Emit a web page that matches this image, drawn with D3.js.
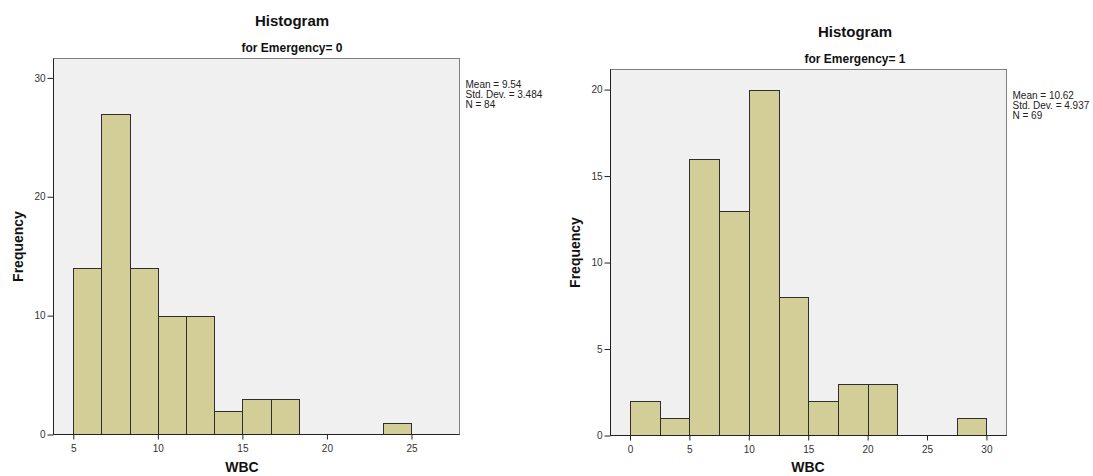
<!DOCTYPE html>
<html>
<head>
<meta charset="utf-8">
<script src="https://cdn.jsdelivr.net/npm/d3@7"></script>
<style>
  html, body { margin: 0; padding: 0; background: #fff; }
  svg { display: block; font-family: "Liberation Sans", Arial, sans-serif; }
</style>
</head>
<body>
<svg id="chart" width="1093" height="476"></svg>
<script>
// WBC histograms split by Emergency group
const groups = ["0", "1"];

// Emergency = 0
const binEdges0 = [5, 6.667, 8.333, 10, 11.667, 13.333, 15, 16.667, 18.333, 20, 21.667, 23.333, 25];
const counts0   = [14, 27, 14, 10, 10, 2, 3, 3, 0, 0, 0, 1];
const xTicks0   = [5, 10, 15, 20, 25];
const yTicks0   = [0, 10, 20, 30];
const stats0    = ["Mean = 9.54", "Std. Dev. = 3.484", "N = 84"];

// Emergency = 1
const binEdges1 = [0, 2.5, 5, 7.5, 10, 12.5, 15, 17.5, 20, 22.5, 25, 27.5, 30];
const counts1   = [2, 1, 16, 13, 20, 8, 2, 3, 3, 0, 0, 1];
const xTicks1   = [0, 5, 10, 15, 20, 25, 30];
const yTicks1   = [0, 5, 10, 15, 20];
const stats1    = ["Mean = 10.62", "Std. Dev. = 4.937", "N = 69"];

const svg = d3.select("#chart");

const panels = [
  { group: groups[0], edges: binEdges0, counts: counts0, xTicks: xTicks0, yTicks: yTicks0, stats: stats0,
    xDomain: [3.83, 27.84], yMax: 31.63,
    box: { x0: 53.5, x1: 459.5, y0: 58.5, y1: 434.5 }, titleX: 292, xTitleX: 242 },
  { group: groups[1], edges: binEdges1, counts: counts1, xTicks: xTicks1, yTicks: yTicks1, stats: stats1,
    xDomain: [-1.64, 31.69], yMax: 21.16,
    box: { x0: 610.5, x1: 1006.5, y0: 69.5, y1: 435.5 }, titleX: 855, xTitleX: 808 }
];

panels.forEach(p => {
  const b = p.box;
  const x = d3.scaleLinear().domain(p.xDomain).range([b.x0, b.x1]);
  const y = d3.scaleLinear().domain([0, p.yMax]).range([b.y1, b.y0]);
  const g = svg.append("g");

  // plot area
  g.append("rect")
    .attr("x", b.x0).attr("y", b.y0)
    .attr("width", b.x1 - b.x0).attr("height", b.y1 - b.y0)
    .attr("fill", "#f0f0f0")
    .attr("stroke", "#7f7f7f").attr("stroke-width", 1);

  // bars (empty bins are not drawn)
  const bins = p.counts.map((c, i) => ({ x0: p.edges[i], x1: p.edges[i + 1], n: c }))
    .filter(d => d.n > 0);
  g.selectAll("rect.bar").data(bins).join("rect")
    .attr("class", "bar")
    .attr("x", d => Math.round(x(d.x0)) + 0.5)
    .attr("width", d => Math.round(x(d.x1)) - Math.round(x(d.x0)))
    .attr("y", d => Math.round(y(d.n)) + 0.5)
    .attr("height", d => b.y1 - 0.5 - Math.round(y(d.n)))
    .attr("fill", "#d3ce97")
    .attr("stroke", "#2e2e2e").attr("stroke-width", 1);

  // axes
  const xAxis = d3.axisBottom(x).tickValues(p.xTicks).tickSize(5).tickPadding(5).tickFormat(d3.format("d"));
  const yAxis = d3.axisLeft(y).tickValues(p.yTicks).tickSize(6).tickPadding(2).tickFormat(d3.format("d"));

  const gx = g.append("g").attr("transform", `translate(0,${b.y1})`).call(xAxis);
  const gy = g.append("g").attr("transform", `translate(${b.x0},0)`).call(yAxis);
  [gx, gy].forEach(ax => {
    ax.select(".domain").remove();
    ax.selectAll(".tick line").attr("stroke", "#222");
    ax.selectAll(".tick text").attr("fill", "#333")
      .style("font-size", "10px").style("font-family", "'Liberation Sans', Arial, sans-serif");
  });

  // black axis lines on left and bottom
  g.append("line").attr("x1", b.x0).attr("x2", b.x1).attr("y1", b.y1).attr("y2", b.y1)
    .attr("stroke", "#222");
  g.append("line").attr("x1", b.x0).attr("x2", b.x0).attr("y1", b.y0).attr("y2", b.y1)
    .attr("stroke", "#222");

  // titles
  g.append("text").attr("x", p.titleX).attr("y", b.y0 - 33)
    .attr("text-anchor", "middle").style("font-size", "15px").style("font-weight", "bold")
    .attr("fill", "#111").text("Histogram");
  g.append("text").attr("x", p.titleX).attr("y", b.y0 - 7)
    .attr("text-anchor", "middle").style("font-size", "12px").style("font-weight", "bold")
    .attr("fill", "#111").text("for Emergency= " + p.group);

  // axis titles
  g.append("text").attr("x", p.xTitleX).attr("y", 472)
    .attr("text-anchor", "middle").style("font-size", "14px").style("font-weight", "bold")
    .attr("fill", "#111").text("WBC");
  g.append("text")
    .attr("transform", `translate(${b.x0 - 31},${(b.y0 + b.y1) / 2}) rotate(-90)`)
    .attr("text-anchor", "middle").style("font-size", "14px").style("font-weight", "bold")
    .attr("fill", "#111").text("Frequency");

  // summary statistics
  const st = g.append("text").attr("x", b.x1 + 6).attr("y", b.y0 + 29)
    .style("font-size", "10px").attr("fill", "#222");
  st.selectAll("tspan").data(p.stats).join("tspan")
    .attr("x", b.x1 + 6).attr("dy", (d, i) => i === 0 ? 0 : 10)
    .text(d => d);
});
</script>
</body>
</html>
